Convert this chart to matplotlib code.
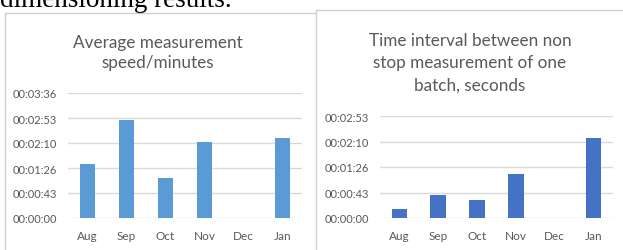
import matplotlib.pyplot as plt
from matplotlib.lines import Line2D
from matplotlib.ticker import FuncFormatter, MultipleLocator

# data (seconds)
months = ['Aug', 'Sep', 'Oct', 'Nov', 'Dec', 'Jan']
avg_speed = [93, 169, 69, 132, 0, 138]
interval_time = [16, 39, 30, 74, 0, 135]

W, H = 623, 251
TXT = '#595959'
GRID = '#d9d9d9'


def hms(v, pos=None):
    s = int(round(v))
    return f"{s // 3600:02d}:{(s % 3600) // 60:02d}:{s % 60:02d}"


def px_axes(fig, x0, x1, y_top, y_bot):
    return fig.add_axes([x0 / W, (H - y_bot) / H, (x1 - x0) / W, (y_bot - y_top) / H])


def style(ax, ymax):
    ax.set_ylim(0, ymax)
    ax.set_xlim(-0.5, len(months) - 0.5)
    ax.yaxis.set_major_locator(MultipleLocator(43.2))
    ax.yaxis.set_major_formatter(FuncFormatter(hms))
    ax.grid(axis='y', color=GRID, lw=1)
    ax.set_axisbelow(True)
    for sp in ax.spines.values():
        sp.set_visible(False)
    ax.tick_params(length=0, colors=TXT, labelsize=8)
    ax.tick_params(axis='y', pad=8)
    ax.tick_params(axis='x', pad=9, labelsize=8.5)
    for lab in ax.get_xticklabels() + ax.get_yticklabels():
        lab.set_family('Lato')


fig = plt.figure(figsize=(W / 100, H / 100), dpi=100)

# left chart
ax1 = px_axes(fig, 68, 302, 94, 219)
ax1.bar(months, avg_speed, width=0.4, color='#5B9BD5')
style(ax1, 216)
fig.text(158 / W, 1 - 53 / H, 'Average measurement\nspeed/minutes', ha='center', va='center',
         fontsize=12.3, color=TXT, family='Lato', linespacing=1.25)

# right chart
ax2 = px_axes(fig, 380, 613, 117, 219)
ax2.bar(months, interval_time, width=0.4, color='#4472C4')
style(ax2, 172.8)
fig.text(470 / W, 1 - 63 / H, 'Time interval between non\nstop measurement of one\nbatch, seconds',
         ha='center', va='center', fontsize=12.3, color=TXT, family='Lato', linespacing=1.5)

# chart frames
def fline(xs, ys):
    fig.add_artist(Line2D([x / W for x in xs], [1 - y / H for y in ys],
                          color='#d0d0d0', lw=1))

fline([5, 316], [14, 14])
fline([5, 5], [14, 251])
fline([316, 623], [11, 11])
fline([316, 316], [11, 251])

# cut-off text from the page above
fig.text(0, 1 - 7 / H, 'dimensioning results.', ha='left', va='baseline',
         fontsize=19.5, family='Liberation Serif', color='black')

fig.savefig('out.png', dpi=100)
